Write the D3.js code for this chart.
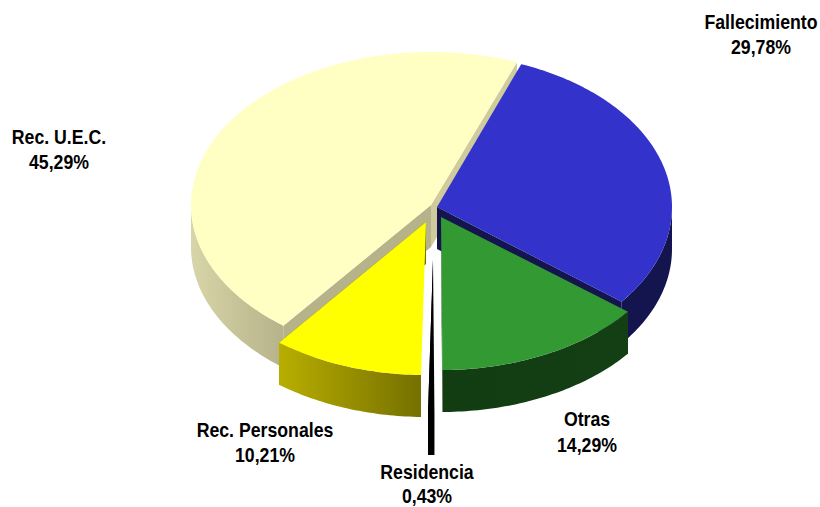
<!DOCTYPE html>
<html>
<head>
<meta charset="utf-8">
<script src="https://cdn.jsdelivr.net/npm/d3@7"></script>
<style>
  html, body { margin: 0; padding: 0; background: #fff; overflow: hidden; }
  text { font-family: "Liberation Sans", Arial, sans-serif; font-weight: bold; fill: #000; }
</style>
</head>
<body>
<div id="chart"></div>
<script>
// order is clockwise from the cut at the top right
let categories = ["Fallecimiento", "Otras", "Residencia", "Rec. Personales", "Rec. U.E.C."];
let values = [29.78, 14.29, 0.43, 10.21, 45.29];
let valueLabels = ["29,78%", "14,29%", "0,43%", "10,21%", "45,29%"];

let topColors = ["#3333cc", "#339933", "#000000", "#ffff00", "#ffffc4"];
let wallLeft = ["#14144f", "#123c12", "#000000", "#b8ae00", "#d8d5a8"];
let wallRight = ["#14144f", "#143f14", "#000000", "#757000", "#b6b28a"];
let faceColors = ["#14144f", "#143f14", "#000000", "#757000", "#c8c496"];

// how far each slice is pulled out of the pie, px
let offsetX = [6, 10, 2, -5, 0];
let offsetY = [2, 12, 55, 17, 0];
// the picture has some perspective, so the far right comes out a bit narrower
let widths = [235, 238, 239, 239, 240];

// label centres and the gap down to the second line
let labelX = [761, 587, 427, 265, 59];
let labelY = [29, 426, 479.2, 437, 144];
let labelGap = [25, 26, 23.5, 25, 25];

let svgW = 820;
let svgH = 507;
let cx = 431;
let cy = 205;
let ry = 153;
let depth = 42;

let y = d3.scaleLinear().domain([-1, 1]).range([-ry, ry]);

let pie = d3.pie().sort(null)
  .startAngle(21 * Math.PI / 180)
  .endAngle(381 * Math.PI / 180);
let slices = pie(values);

let svg = d3.select("#chart")
  .append("svg")
  .attr("width", svgW)
  .attr("height", svgH);

let defs = svg.append("defs");
slices.forEach((d, i) => {
  let g = defs.append("linearGradient")
    .attr("id", "wall" + i);
  g.append("stop").attr("offset", "0%").attr("stop-color", wallLeft[i]);
  g.append("stop").attr("offset", "100%").attr("stop-color", wallRight[i]);
});

let line = d3.line().x(d => d[0]).y(d => d[1]);
let rim = (a, i) => [widths[i] * Math.sin(a), y(-Math.cos(a))];

function arcPoints(a0, a1, i) {
  let n = Math.max(2, Math.ceil((a1 - a0) * 60));
  return d3.range(n + 1).map(k => rim(a0 + (a1 - a0) * k / n, i));
}

function drop(points) {
  return points.map(p => [p[0], p[1] + depth]);
}

// cut face running from the centre to the rim at angle a
function faceShape(a, i) {
  let p = rim(a, i);
  return line([[0, 0], p, [p[0], p[1] + depth], [0, depth]]) + "Z";
}

// outside wall, only the front half of the ellipse can be seen
function wallShape(d) {
  let a0 = Math.max(d.startAngle, Math.PI / 2);
  let a1 = Math.min(d.endAngle, Math.PI * 1.5);
  if (a1 <= a0) return null;
  let pts = arcPoints(a0, a1, d.index);
  return line(pts.concat(drop(pts).reverse())) + "Z";
}

function topShape(d) {
  return line([[0, 0]].concat(arcPoints(d.startAngle, d.endAngle, d.index))) + "Z";
}

// back to front
let drawOrder = [4, 0, 2, 1, 3];

let pieces = svg.selectAll("g.slice")
  .data(drawOrder.map(i => slices[i]))
  .enter()
  .append("g")
  .attr("class", "slice")
  .attr("transform", d => `translate(${cx + offsetX[d.index]},${cy + offsetY[d.index]})`);

// the face that looks toward the viewer depends on the side of the pie
pieces.append("path")
  .attr("d", d => faceShape(d.endAngle, d.index))
  .attr("fill", d => d.index == 4 ? "#cfcb9c" : faceColors[d.index]);

pieces.filter(d => d.index == 4)
  .append("path")
  .attr("d", d => faceShape(d.startAngle, d.index))
  .attr("fill", "#b6b28a");

pieces.append("path")
  .attr("d", wallShape)
  .attr("fill", d => `url(#wall${d.index})`);

pieces.append("path")
  .attr("d", topShape)
  .attr("fill", d => topColors[d.index]);

let labels = svg.selectAll("text")
  .data(categories)
  .enter()
  .append("text")
  .attr("text-anchor", "middle")
  .attr("font-size", 20)
  .attr("transform", (d, i) => `translate(${labelX[i]},${labelY[i]}) scale(0.885,1)`);

labels.append("tspan")
  .attr("x", 0)
  .text(d => d);

labels.append("tspan")
  .attr("x", 0)
  .attr("dy", (d, i) => labelGap[i])
  .text((d, i) => valueLabels[i]);
</script>
</body>
</html>
